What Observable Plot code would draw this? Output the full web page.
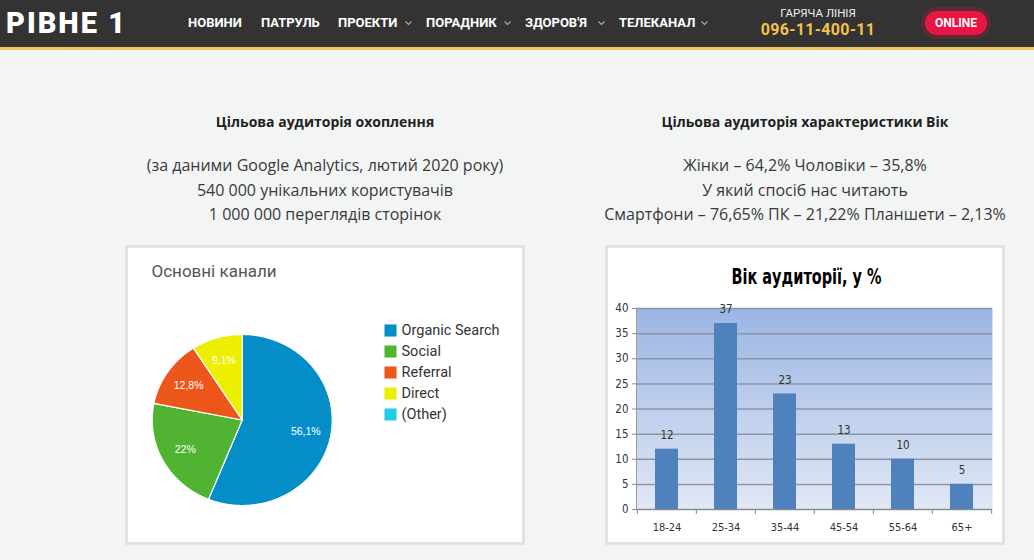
<!DOCTYPE html>
<html><head><meta charset="utf-8">
<script src="https://cdn.jsdelivr.net/npm/d3@7"></script>
<script src="https://cdn.jsdelivr.net/npm/@observablehq/plot@0.6"></script>
<style>
html,body{margin:0;padding:0;width:1034px;height:560px;overflow:hidden;background:#f3f4f4;font-family:"Open Sans",sans-serif;}
.abs{position:absolute;}
#header{left:0;top:0;width:1034px;height:47px;background:#333333;}
#yellow{left:0;top:47px;width:1034px;height:3px;background:#f5c55b;}
.logo{left:6px;top:4px;font-family:Roboto,sans-serif;font-weight:900;font-size:29px;color:#fff;letter-spacing:2px;line-height:38px;white-space:nowrap;}
.nav{top:14px;font-family:Roboto,sans-serif;font-weight:700;font-size:13px;color:#fff;line-height:18px;white-space:nowrap;}
.chev{top:21px;}
.hot{left:763px;width:110px;text-align:center;top:7px;font-family:Roboto,sans-serif;font-size:11.5px;color:#eee;line-height:12px;}
.phone{left:758px;width:120px;text-align:center;top:22px;font-family:Roboto,sans-serif;font-weight:700;font-size:16px;color:#f2c14e;letter-spacing:0.3px;line-height:16px;}
.online{left:925px;top:11px;width:62px;height:24px;border-radius:12px;background:#ea1445;box-shadow:0 0 0 4px rgba(234,20,69,0.22);color:#fff;font-family:Roboto,sans-serif;font-weight:700;font-size:12px;line-height:24px;text-align:center;}
.ttl{width:480px;text-align:center;font-weight:700;font-size:14px;color:#222;line-height:20px;top:112px;white-space:nowrap;}
.txt{width:480px;text-align:center;font-size:16px;color:#3a3a3a;line-height:24.5px;top:153px;white-space:nowrap;}
.box{top:245px;width:400px;height:300px;border:3px solid #e3e3e3;box-sizing:border-box;background:#fff;}
.ov{top:245px;width:400px;height:300px;}
</style>
</head><body>
<div id="header" class="abs"></div>
<div id="yellow" class="abs"></div>
<div class="abs logo">РІВНЕ 1</div>
<div class="abs nav" style="left:188px">НОВИНИ</div>
<div class="abs nav" style="left:261px">ПАТРУЛЬ</div>
<div class="abs nav" style="left:338px">ПРОЕКТИ</div>
<div class="abs nav" style="left:426px">ПОРАДНИК</div>
<div class="abs nav" style="left:525px">ЗДОРОВ'Я</div>
<div class="abs nav" style="left:619px">ТЕЛЕКАНАЛ</div>
<svg class="abs chev" style="left:405px" width="7" height="5"><polyline points="0.5,0.5 3.5,3.5 6.5,0.5" fill="none" stroke="#aaa" stroke-width="1.1"/></svg>
<svg class="abs chev" style="left:504px" width="7" height="5"><polyline points="0.5,0.5 3.5,3.5 6.5,0.5" fill="none" stroke="#aaa" stroke-width="1.1"/></svg>
<svg class="abs chev" style="left:598px" width="7" height="5"><polyline points="0.5,0.5 3.5,3.5 6.5,0.5" fill="none" stroke="#aaa" stroke-width="1.1"/></svg>
<svg class="abs chev" style="left:701px" width="7" height="5"><polyline points="0.5,0.5 3.5,3.5 6.5,0.5" fill="none" stroke="#aaa" stroke-width="1.1"/></svg>
<div class="abs hot">ГАРЯЧА ЛІНІЯ</div>
<div class="abs phone">096-11-400-11</div>
<div class="abs online">ONLINE</div>

<div class="abs ttl" style="left:85px">Цільова аудиторія охоплення</div>
<div class="abs txt" style="left:85px">(за даними Google Analytics, лютий 2020 року)<br>540 000 унікальних користувачів<br>1 000 000 переглядів сторінок</div>
<div class="abs ttl" style="left:565px">Цільова аудиторія характеристики Вік</div>
<div class="abs txt" style="left:565px">Жінки – 64,2% Чоловіки – 35,8%<br>У який спосіб нас читають<br>Смартфони – 76,65% ПК – 21,22% Планшети – 2,13%</div>

<div class="abs box" style="left:125px"></div>
<div class="abs box" style="left:605px"></div>
<div id="pie" class="abs ov" style="left:125px"></div>
<div id="legend" class="abs ov" style="left:125px"></div>
<div id="bars" class="abs ov" style="left:605px"></div>

<script>
// ---- data ----
const channelNames = ["Organic Search", "Social", "Referral", "Direct", "(Other)"];
const channelShares = [56.1, 22, 12.8, 9.1, 0];
const channelLabels = ["56,1%", "22%", "12,8%", "9,1%", ""];
const pieTitle = "Основні канали";

const ageGroups = ["18-24", "25-34", "35-44", "45-54", "55-64", "65+"];
const agePercents = [12, 37, 23, 13, 10, 5];
const ageTicks = [0, 5, 10, 15, 20, 25, 30, 35, 40];
const barTitle = "Вік аудиторії, у %";

// ---- styles ----
const channelColors = ["#058dc7", "#50b432", "#ed561b", "#edef00", "#24cbe5"];
const narrow = "'Liberation Sans Narrow','DejaVu Sans Condensed',sans-serif";

// ---- pie ----
const pieData = channelNames.map((name, i) => ({name, share: channelShares[i], label: channelLabels[i]}));
const arcs = d3.pie().sort(null).value(d => d.share)(pieData).filter(a => a.data.share > 0);
const slicePts = arcs.flatMap(a => {
  const n = Math.max(2, Math.ceil((a.endAngle - a.startAngle) / 0.01));
  const pts = [{name: a.data.name, x: 0, y: 0}];
  for (let k = 0; k <= n; k++) {
    const t = a.startAngle + (a.endAngle - a.startAngle) * k / n;
    pts.push({name: a.data.name, x: Math.sin(t), y: Math.cos(t)});
  }
  pts.push({name: a.data.name, x: 0, y: 0});
  return pts;
});
const mid = a => (a.startAngle + a.endAngle) / 2;

const pie = Plot.plot({
  width: 400, height: 300, margin: 0,
  style: {background: "transparent", fontFamily: "Roboto,sans-serif"},
  x: {domain: [-1, 1], range: [116.7 - 90, 116.7 + 90], axis: null},
  y: {domain: [-1, 1], range: [174.5 + 85.5, 174.5 - 85.5], axis: null},
  color: {domain: channelNames, range: channelColors},
  marks: [
    Plot.line(slicePts, {x: "x", y: "y", z: "name", fill: "name", stroke: "#fff", strokeWidth: 1.2, curve: "linear"}),
    Plot.text(arcs, {x: a => 0.72 * Math.sin(mid(a)), y: a => 0.72 * Math.cos(mid(a)), text: a => a.data.label, fill: "white", fontSize: 10.5, fontFamily: "Arial,'Liberation Sans',sans-serif"}),
    Plot.text([pieTitle], {frameAnchor: "top-left", dx: 26, dy: 26, lineAnchor: "middle", textAnchor: "start", text: d => d, fontSize: 17, fill: "#555"})
  ]
});
document.getElementById("pie").appendChild(pie);

const legend = Plot.plot({
  width: 400, height: 300, margin: 0,
  style: {background: "transparent", fontFamily: "Roboto,sans-serif"},
  y: {type: "point", domain: channelNames, range: [83, 170], padding: 0, axis: null},
  color: {domain: channelNames, range: channelColors},
  marks: [
    Plot.dot(channelNames, {y: d => d, frameAnchor: "left", dx: 265, symbol: "square", r: 6.8, fill: d => d}),
    Plot.text(channelNames, {y: d => d, frameAnchor: "left", dx: 276, text: d => d, textAnchor: "start", fontSize: 14.5, fill: "#333"})
  ]
});
document.getElementById("legend").appendChild(legend);

// ---- bars ----
const ageData = ageGroups.map((group, i) => ({group, value: agePercents[i]}));
const step = (400 - 31 - 13) / ageGroups.length;
const gradientDefs = () => {
  const g = d3.create("svg:defs");
  const lg = g.append("linearGradient").attr("id", "ageBg").attr("x1", 0).attr("y1", 0).attr("x2", 0).attr("y2", 1);
  lg.append("stop").attr("offset", "0%").attr("stop-color", "#9bb5e3");
  lg.append("stop").attr("offset", "100%").attr("stop-color", "#e1e8f5");
  return g.node();
};
const bars = Plot.plot({
  width: 400, height: 300, marginLeft: 31, marginRight: 13, marginTop: 63, marginBottom: 36,
  style: {background: "transparent", fontFamily: narrow, fontSize: "11px", color: "#333"},
  x: {domain: ageGroups, paddingInner: 0.61, paddingOuter: 0.305, axis: null},
  y: {domain: [0, 40], axis: null},
  marks: [
    gradientDefs,
    Plot.frame({fill: "url(#ageBg)", stroke: "none"}),
    Plot.gridY(ageTicks, {stroke: "#8a95a8", strokeOpacity: 1, strokeWidth: 1.5}),
    Plot.barY(ageData, {x: "group", y: "value", fill: "#4f81bd"}),
    Plot.text(ageData, {x: "group", y: "value", text: d => String(d.value), dy: -14, fontSize: 11.5, fill: "#333"}),
    Plot.ruleY([0], {stroke: "#8a8a8a"}),
    Plot.frame({anchor: "left", stroke: "#9a9a9a"}),
    Plot.axisY({ticks: ageTicks, tickSize: 4, tickPadding: 4, stroke: "#8a8a8a", fill: "#333", fontSize: 11.5, label: null}),
    Plot.axisX({tickSize: 0, tickPadding: 14, fill: "#333", fontSize: 11, label: null}),
    Plot.axisX({tickSize: 5, tickFormat: () => "", dx: -step / 2, stroke: "#8a8a8a", label: null}),
    Plot.axisX({ticks: [ageGroups[ageGroups.length - 1]], tickSize: 5, tickFormat: () => "", dx: step / 2, stroke: "#8a8a8a", label: null}),
    Plot.text([barTitle], {frameAnchor: "top", dy: -31, dx: -8, lineAnchor: "middle", text: d => d, fontSize: 21, fontWeight: "bold", fill: "#000"})
  ]
});
// condense the title to the narrow width it has in the reference
d3.select(bars).selectAll("text").filter(function() { return this.textContent === barTitle; })
  .attr("textLength", 150).attr("lengthAdjust", "spacingAndGlyphs");
document.getElementById("bars").appendChild(bars);
</script>
</body></html>
